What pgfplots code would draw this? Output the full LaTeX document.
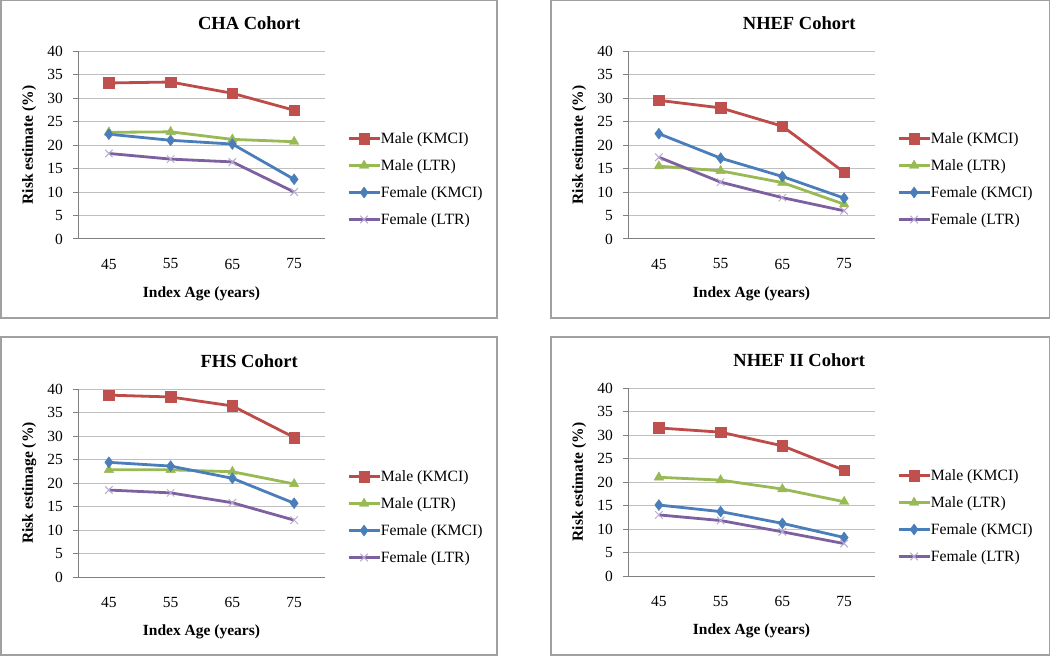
\documentclass[border=0pt]{standalone}
\usepackage{fontspec}
\setmainfont{Liberation Serif}
\usepackage{pgfplots}
\usepackage{pgfplotstable}
\pgfplotsset{compat=1.18}

\definecolor{cred}{HTML}{BE4B48}
\definecolor{credm}{HTML}{C0504D}
\definecolor{cgreen}{HTML}{98B954}
\definecolor{cblue}{HTML}{4A7EBB}
\definecolor{cpurple}{HTML}{7D60A0}
\definecolor{cxmark}{HTML}{B7A9CF}
\definecolor{cframe}{HTML}{A0A0A0}
\definecolor{cgrid}{HTML}{BFBFBF}

% x: 1=45, 2=55, 3=65, 4=75
\pgfplotstableread{
x mk ml fk fl
1 33.2 22.7 22.3 18.2
2 33.4 22.8 21.0 17.0
3 31.0 21.2 20.2 16.4
4 27.4 20.7 12.7 10.0
}\cha
\pgfplotstableread{
x mk ml fk fl
1 29.5 15.5 22.4 17.4
2 27.9 14.5 17.2 12.1
3 24.0 12.0 13.3 8.8
4 14.2 7.4 8.7 6.0
}\nhef
\pgfplotstableread{
x mk ml fk fl
1 38.7 22.8 24.4 18.5
2 38.3 22.8 23.6 17.9
3 36.4 22.4 21.0 15.8
4 29.7 19.8 15.7 12.1
}\fhs
\pgfplotstableread{
x mk ml fk fl
1 31.5 21.0 15.1 13.0
2 30.6 20.4 13.7 11.8
3 27.7 18.5 11.2 9.4
4 22.5 15.8 8.2 6.9
}\nhefii

\pgfplotsset{
  panel/.style={
    scale only axis, width=247pt, height=188pt,
    xmin=0.5, xmax=4.5, ymin=0, ymax=40,
    xtick={1,2,3,4}, xticklabels={45,55,65,75},
    ytick={0,5,...,40},
    axis lines*=left, axis line style={-, draw=gray, line width=1pt},
    ymajorgrids, grid style={cgrid, line width=1pt},
    tick align=outside, major tick length=5pt,
    xtick style={draw=none}, ytick style={draw=gray, line width=1pt},
    /pgf/number format/assume math mode=true,
    tick label style={font=\fontsize{15.5}{18}\selectfont},
    yticklabel style={anchor=east, inner sep=0pt, xshift=-10pt},
    xticklabel style={anchor=center, yshift=-20pt},
    title style={at={(axis description cs:0.693,1.117)}, anchor=center, yshift=0pt,
      font=\bfseries\fontsize{18.5}{22}\selectfont},
    xlabel={Index Age (years)},
    xlabel style={at={(axis description cs:0.5,-0.29)}, anchor=center,
      font=\bfseries\fontsize{15.5}{18}\selectfont},
    ylabel style={at={(axis description cs:-0.198,0.5)}, anchor=center,
      font=\bfseries\fontsize{15.5}{18}\selectfont},
    legend style={at={(axis description cs:1.089,0.319)}, anchor=west,
      draw=none, fill=none, inner sep=0pt, row sep=14.6pt,
      font=\fontsize{15.7}{18}\selectfont,
      nodes={inner sep=0pt}},
    legend cell align=left,
    legend image code/.code={\draw[mark repeat=2,mark phase=2,##1]
      plot coordinates {(0pt,0pt)(15.5pt,0pt)(31pt,0pt)};},
  },
  smk/.style={draw=cred, line width=2.8pt, mark=square*,
    mark options={draw=credm, fill=credm, line width=0.4pt, mark size=5.3pt}},
  sml/.style={draw=cgreen, line width=2.8pt, mark=triangle*,
    mark options={draw=cgreen, fill=cgreen, line width=0.4pt, mark size=5.5pt}},
  sfk/.style={draw=cblue, line width=2.8pt, mark=diamond*,
    mark options={draw=cblue, fill=cblue, line width=0.4pt, mark size=5.5pt}},
  sfl/.style={draw=cpurple, line width=2.8pt, mark=x,
    mark options={draw=cxmark, line width=1pt, mark size=5.3pt}},
}

\newcommand{\fourseries}[1]{%
  \addplot[smk] table[x=x,y=mk] {#1}; \addlegendentry{Male (KMCI)}
  \addplot[sml] table[x=x,y=ml] {#1}; \addlegendentry{Male (LTR)}
  \addplot[sfk] table[x=x,y=fk] {#1}; \addlegendentry{Female (KMCI)}
  \addplot[sfl] table[x=x,y=fl] {#1}; \addlegendentry{Female (LTR)}
}

\begin{document}
\begin{tikzpicture}
\path[use as bounding box] (0pt,0pt) rectangle (1050pt,657pt);
\draw[cframe, line width=1.5pt] (0.75pt,339pt) rectangle (497pt,656.25pt);
\draw[cframe, line width=1.5pt] (551pt,339pt) rectangle (1049.25pt,656.25pt);
\draw[cframe, line width=1.5pt] (0.75pt,2pt) rectangle (497pt,320pt);
\draw[cframe, line width=1.5pt] (551pt,2pt) rectangle (1049.25pt,320pt);

\begin{axis}[panel, at={(78pt,418pt)}, anchor=south west,
  title={CHA Cohort}, ylabel={Risk estimate (\%)}]
\fourseries{\cha}
\end{axis}

\begin{axis}[panel, at={(628pt,418pt)}, anchor=south west,
  title={NHEF Cohort}, ylabel={Risk estimate (\%)}]
\fourseries{\nhef}
\end{axis}

\begin{axis}[panel, at={(78pt,80pt)}, anchor=south west,
  title={FHS Cohort}, ylabel={Risk estimage (\%)}]
\fourseries{\fhs}
\end{axis}

\begin{axis}[panel, at={(628pt,81pt)}, anchor=south west,
  title={NHEF II Cohort}, ylabel={Risk estimate (\%)}]
\fourseries{\nhefii}
\end{axis}
\end{tikzpicture}
\end{document}
